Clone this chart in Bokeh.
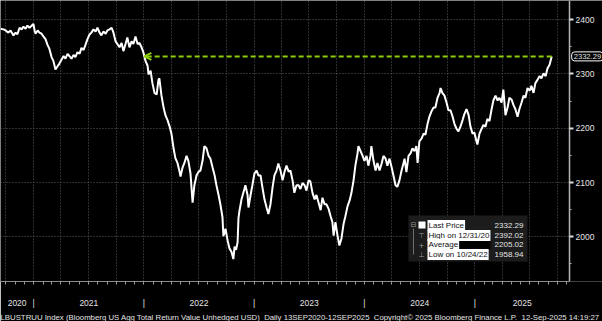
import pandas as pd
from bokeh.plotting import figure
from bokeh.models import (ColumnDataSource, FixedTicker, Range1d, Label, BoxAnnotation,
                          Arrow, OpenHead, Title)
from bokeh.embed import file_html
from bokeh.resources import INLINE

# ---------------- data ----------------
DATES = [
    "2020-09-13", "2020-09-23", "2020-09-30", "2020-10-09", "2020-10-16", "2020-10-26", "2020-11-02",
    "2020-11-08", "2020-11-15", "2020-11-22", "2020-11-28", "2020-12-05", "2020-12-11", "2020-12-18",
    "2020-12-31", "2021-01-04", "2021-01-07", "2021-01-14", "2021-01-20", "2021-01-27", "2021-02-02",
    "2021-02-09", "2021-02-16", "2021-02-22", "2021-03-01", "2021-03-07", "2021-03-14", "2021-03-21",
    "2021-03-27", "2021-04-03", "2021-04-10", "2021-04-16", "2021-04-23", "2021-04-29", "2021-05-06",
    "2021-05-13", "2021-05-19", "2021-05-26", "2021-06-02", "2021-06-08", "2021-06-15", "2021-06-21",
    "2021-06-28", "2021-07-05", "2021-07-11", "2021-07-18", "2021-07-25", "2021-07-31", "2021-08-07",
    "2021-08-13", "2021-08-20", "2021-08-27", "2021-09-02", "2021-09-09", "2021-09-16", "2021-09-22",
    "2021-09-29", "2021-10-05", "2021-10-12", "2021-10-19", "2021-10-25", "2021-11-01", "2021-11-07",
    "2021-11-14", "2021-11-21", "2021-11-27", "2021-12-04", "2021-12-11", "2021-12-17", "2021-12-24",
    "2021-12-30", "2022-01-06", "2022-01-13", "2022-01-16", "2022-01-23", "2022-01-29", "2022-02-05",
    "2022-02-12", "2022-02-18", "2022-02-21", "2022-02-28", "2022-03-07", "2022-03-13", "2022-03-20",
    "2022-03-27", "2022-04-02", "2022-04-09", "2022-04-15", "2022-04-22", "2022-04-29", "2022-05-02",
    "2022-05-09", "2022-05-15", "2022-05-22", "2022-05-28", "2022-06-04", "2022-06-11", "2022-06-17",
    "2022-06-24", "2022-07-01", "2022-07-07", "2022-07-14", "2022-07-20", "2022-07-27", "2022-08-03",
    "2022-08-09", "2022-08-16", "2022-08-23", "2022-08-29", "2022-09-05", "2022-09-11", "2022-09-18",
    "2022-09-21", "2022-09-28", "2022-10-05", "2022-10-11", "2022-10-18", "2022-10-24", "2022-10-28",
    "2022-11-02", "2022-11-07", "2022-11-10", "2022-11-13", "2022-11-20", "2022-11-27", "2022-12-03",
    "2022-12-10", "2022-12-13", "2022-12-20", "2022-12-26", "2023-01-02", "2023-01-09", "2023-01-15",
    "2023-01-22", "2023-01-28", "2023-02-04", "2023-02-11", "2023-02-17", "2023-02-24", "2023-03-03",
    "2023-03-09", "2023-03-16", "2023-03-22", "2023-03-29", "2023-04-05", "2023-04-11", "2023-04-18",
    "2023-04-25", "2023-05-01", "2023-05-08", "2023-05-14", "2023-05-21", "2023-05-28", "2023-06-03",
    "2023-06-10", "2023-06-17", "2023-06-23", "2023-06-30", "2023-07-06", "2023-07-13", "2023-07-20",
    "2023-07-26", "2023-08-02", "2023-08-09", "2023-08-15", "2023-08-22", "2023-08-28", "2023-09-04",
    "2023-09-11", "2023-09-17", "2023-09-21", "2023-09-27", "2023-10-04", "2023-10-10", "2023-10-17",
    "2023-10-24", "2023-10-30", "2023-11-06", "2023-11-13", "2023-11-19", "2023-11-26", "2023-12-02",
    "2023-12-09", "2023-12-12", "2023-12-19", "2023-12-26", "2024-01-01", "2024-01-08", "2024-01-14",
    "2024-01-21", "2024-01-24", "2024-01-31", "2024-02-07", "2024-02-13", "2024-02-20", "2024-02-27",
    "2024-03-04", "2024-03-11", "2024-03-17", "2024-03-24", "2024-03-31", "2024-04-06", "2024-04-13",
    "2024-04-19", "2024-04-26", "2024-05-03", "2024-05-09", "2024-05-13", "2024-05-19", "2024-05-26",
    "2024-06-02", "2024-06-08", "2024-06-15", "2024-06-21", "2024-06-25", "2024-07-01", "2024-07-08",
    "2024-07-15", "2024-07-21", "2024-07-28", "2024-08-03", "2024-08-10", "2024-08-17", "2024-08-23",
    "2024-08-30", "2024-09-06", "2024-09-09", "2024-09-15", "2024-09-22", "2024-09-29", "2024-10-05",
    "2024-10-12", "2024-10-19", "2024-10-25", "2024-11-01", "2024-11-07", "2024-11-14", "2024-11-21",
    "2024-11-27", "2024-12-04", "2024-12-11", "2024-12-17", "2024-12-24", "2024-12-30", "2025-01-06",
    "2025-01-09", "2025-01-16", "2025-01-23", "2025-01-29", "2025-02-05", "2025-02-11", "2025-02-18",
    "2025-02-25", "2025-03-03", "2025-03-10", "2025-03-17", "2025-03-23", "2025-03-30", "2025-04-05",
    "2025-04-12", "2025-04-19", "2025-04-25", "2025-05-02", "2025-05-09", "2025-05-15", "2025-05-22",
    "2025-05-28", "2025-06-04", "2025-06-11", "2025-06-17", "2025-06-24", "2025-07-01", "2025-07-07",
    "2025-07-14", "2025-07-20", "2025-07-27", "2025-08-03", "2025-08-09", "2025-08-16", "2025-08-23",
    "2025-08-29", "2025-09-05", "2025-09-12",
]
VALUES = [
    2383, 2382, 2380, 2376, 2380, 2371, 2376,
    2373, 2385, 2382, 2387, 2383, 2389, 2385,
    2392.02, 2380, 2374, 2380, 2376, 2374, 2369,
    2364, 2353, 2346, 2331, 2324, 2308, 2314,
    2319, 2326, 2333, 2328, 2337, 2333, 2328,
    2335, 2331, 2340, 2337, 2348, 2344, 2353,
    2364, 2373, 2376, 2382, 2378, 2385, 2376,
    2371, 2378, 2374, 2380, 2382, 2385, 2376,
    2360, 2355, 2349, 2357, 2342, 2355, 2367,
    2349, 2360, 2355, 2369, 2355, 2357, 2349,
    2340, 2324, 2315, 2299, 2306, 2283, 2265,
    2262, 2289, 2292, 2260, 2238, 2224, 2215,
    2203, 2190, 2163, 2145, 2136, 2120, 2111,
    2128, 2136, 2149, 2140, 2117, 2063, 2095,
    2113, 2120, 2122, 2140, 2167, 2163, 2149,
    2144, 2128, 2113, 2095, 2077, 2060, 2036,
    2001, 2015, 1993, 1979, 1972, 1958.94, 1982,
    1976, 1990, 2035, 2047, 2069, 2083, 2095,
    2077, 2054, 2077, 2095, 2117, 2122, 2113,
    2113, 2092, 2069, 2054, 2042, 2060, 2092,
    2113, 2122, 2135, 2122, 2104, 2119, 2131,
    2120, 2122, 2104, 2081, 2095, 2095, 2088,
    2099, 2095, 2085, 2104, 2102, 2081, 2069,
    2077, 2063, 2049, 2072, 2060, 2060, 2052,
    2038, 2027, 2002, 2027, 2002, 1984, 1997,
    2024, 2038, 2056, 2067, 2081, 2104, 2131,
    2153, 2167, 2158, 2149, 2140, 2149, 2131,
    2149, 2167, 2140, 2122, 2136, 2122, 2135,
    2149, 2144, 2131, 2144, 2128, 2113, 2095,
    2092, 2104, 2122, 2135, 2144, 2119, 2149,
    2154, 2163, 2158, 2167, 2136, 2176, 2181,
    2190, 2188, 2208, 2221, 2231, 2238, 2238,
    2256, 2265, 2274, 2265, 2260, 2247, 2233,
    2233, 2221, 2208, 2199, 2194, 2203, 2215,
    2226, 2235, 2224, 2203, 2190, 2192, 2176,
    2170, 2190, 2199, 2206, 2203, 2217, 2213,
    2235, 2251, 2260, 2251, 2256, 2247, 2271,
    2224, 2238, 2256, 2253, 2242, 2235, 2221,
    2235, 2247, 2260, 2256, 2274, 2269, 2278,
    2265, 2283, 2289, 2296, 2292, 2301, 2296,
    2310, 2317, 2332.29,
]
AVERAGE = 2205.02
Y_TICKS = [2000, 2100, 2200, 2300, 2400]
Y_MINOR = [1950, 2050, 2150, 2250, 2350]
X_START = "2020-09-13"
X_AXIS_END = "2025-11-10"      # where the price axis sits
Y_START, Y_END = 1917.7, 2435.2
FOOTER = ("LBUSTRUU Index (Bloomberg US Agg Total Return Value Unhedged USD)\u00a0 "
          "Daily 13SEP2020-12SEP2025\u00a0 Copyright\u00a9 2025 Bloomberg Finance L.P.\u00a0 "
          "12-Sep-2025 14:19:27")

# ---------------- derived ----------------
def ms(ts):
    return pd.Timestamp(ts).value / 1e6

dates = pd.to_datetime(DATES)
src = ColumnDataSource(dict(date=dates, value=VALUES))

last_val = VALUES[-1]
last_ms = ms(dates[-1])
i_hi = max(range(len(VALUES)), key=lambda i: VALUES[i])
i_lo = min(range(len(VALUES)), key=lambda i: VALUES[i])

# last time (before the recent run) the index was at the current level
j = len(VALUES) - 2
while j >= 0 and VALUES[j] < last_val:
    j -= 1
f = (VALUES[j] - last_val) / (VALUES[j] - VALUES[j + 1])
cross_ms = ms(dates[j]) + f * (ms(dates[j + 1]) - ms(dates[j]))

W, H = 602, 321
AXIS_PX = 569  # canvas x of the price axis
start_ms, axis_ms = ms(X_START), ms(X_AXIS_END)
range_end_ms = start_ms + (axis_ms - start_ms) * W / AXIS_PX

FONT = "Liberation Sans"
TXT = "#e4e4e4"
GREEN = "#8fcf0a"

p = figure(width=W, height=H, x_axis_type="datetime", y_axis_location="right",
           x_range=Range1d(start_ms, range_end_ms),
           y_range=Range1d(Y_START, Y_END),
           output_backend="svg", toolbar_location=None,
           min_border_left=0, min_border_top=0, min_border_right=0, min_border_bottom=32,
           background_fill_color="black", border_fill_color="black", outline_line_color=None)

# x axis: year labels centred in each year, "|" separators at year starts, monthly minor ticks
years = list(range(pd.Timestamp(X_START).year, pd.Timestamp(X_AXIS_END).year + 1))
bounds = [ms(f"{y}-01-01") for y in years[1:]]
mids = []
for y in years:
    lo = max(ms(f"{y}-01-01"), start_ms)
    hi = min(ms(f"{y + 1}-01-01"), axis_ms)
    mids.append((lo + hi) / 2)
months = [ms(d) for d in pd.date_range("2020-10-01", "2025-11-01", freq="MS")]
quarters = [ms(d) for d in pd.date_range("2020-10-01", "2025-10-01", freq="QS")]

xa = p.xaxis[0]
xa.ticker = FixedTicker(ticks=mids + bounds, minor_ticks=months)
overrides = {m: str(y) for m, y in zip(mids, years)}
overrides.update({b: "|" for b in bounds})
xa.major_label_overrides = overrides
xa.bounds = (start_ms, axis_ms)
xa.major_tick_in = 0
xa.major_tick_out = 0
xa.minor_tick_in = 0
xa.minor_tick_out = 3
xa.minor_tick_line_color = "#9a9a9a"
xa.axis_line_color = "#8a8a8a"
xa.major_label_standoff = 13
xa.major_label_text_font = FONT
xa.major_label_text_font_size = "8.5px"
xa.major_label_text_color = TXT

ya = p.yaxis[0]
ya.fixed_location = axis_ms
ya.ticker = FixedTicker(ticks=Y_TICKS, minor_ticks=Y_MINOR)
ya.major_tick_in = 0
ya.major_tick_out = 4
ya.minor_tick_in = 0
ya.minor_tick_out = 2
ya.axis_line_color = "#b4b4b4"
ya.axis_line_width = 1.5
ya.major_tick_line_color = "#dcdcdc"
ya.major_tick_line_width = 2
ya.minor_tick_line_color = "#b4b4b4"
ya.major_label_standoff = 2
ya.major_label_text_font = FONT
ya.major_label_text_font_size = "8.5px"
ya.major_label_text_color = TXT

for g in (p.xgrid[0], p.ygrid[0]):
    g.grid_line_color = "#5c5c5c"
    g.grid_line_dash = "1 2"
    g.grid_line_width = 1
p.xgrid[0].ticker = FixedTicker(ticks=quarters)
p.ygrid[0].cross_bounds = (start_ms, axis_ms)

p.line(x="date", y="value", source=src, line_color="white", line_width=2)

p.add_layout(Arrow(end=OpenHead(size=7, line_color=GREEN, line_width=2),
                   x_start=last_ms, y_start=last_val, x_end=cross_ms, y_end=last_val,
                   line_color=GREEN, line_width=2, line_dash="5 3"))

# last-price callout on the price axis
p.add_layout(Label(x=last_ms, y=last_val, x_offset=20, text=f"{last_val:.2f}",
                   text_baseline="middle", text_align="left", text_color=TXT,
                   text_font=FONT, text_font_size="7.6px",
                   background_fill_color="black", border_line_color="white",
                   border_line_width=1, padding=2, border_radius=3))

# ---------------- legend box (screen units, frame-relative) ----------------
FB = 289  # frame bottom in canvas pixels
def up(y):
    return FB - y

def sbox(l, r, t, b, color):
    return BoxAnnotation(left=l, right=r, top=up(t), bottom=up(b),
                         left_units="screen", right_units="screen",
                         top_units="screen", bottom_units="screen",
                         fill_color=color, fill_alpha=1, line_color=None)

p.add_layout(sbox(408, 527, 223, 269, "#1c1c1c"))
rows_y = [233, 243, 252, 262]
labels = ["Last Price",
          f"High on {dates[i_hi].strftime('%m/%d/%y')}",
          "Average",
          f"Low on {dates[i_lo].strftime('%m/%d/%y')}"]
vals = [last_val, VALUES[i_hi], AVERAGE, VALUES[i_lo]]
p.add_layout(sbox(456, 490, 247, 257, "black"))
for ry, lab, v in zip(rows_y, labels, vals):
    p.add_layout(Label(x=427, y=up(ry), x_units="screen", y_units="screen", text=lab,
                       text_baseline="middle", text_align="left", text_color="#101010",
                       text_font=FONT, text_font_size="8px",
                       background_fill_color="white", padding=1))
    p.add_layout(Label(x=523, y=up(ry), x_units="screen", y_units="screen", text=f"{v:.2f}",
                       text_baseline="middle", text_align="right", text_color=TXT,
                       text_font=FONT, text_font_size="8px"))
# icons
p.add_layout(sbox(418, 425, 229, 236, "white"))
p.add_layout(sbox(412.5, 413.5, 236, 262, "#6e6e6e"))
for ic, ry in zip(["\u229f", "\u22a4", "+", "\u22a5"], [232] + rows_y[1:]):
    p.add_layout(Label(x=413 if ic == "\u229f" else 421, y=up(ry), x_units="screen",
                       y_units="screen", text=ic, text_baseline="middle", text_align="center",
                       text_color="#9a9a9a", text_font="DejaVu Sans", text_font_size="7px"))

p.add_layout(Title(text=FOOTER, align="left", text_font=FONT, text_font_size="7.8px",
                   text_color=TXT, text_font_style="normal", standoff=0), "below")

open("out.html", "w").write(file_html(p, INLINE))
